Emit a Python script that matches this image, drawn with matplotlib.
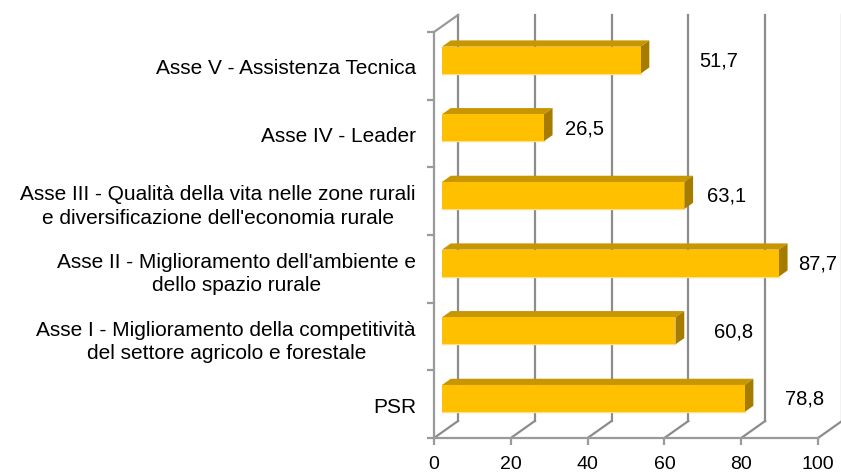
import numpy as np
import matplotlib
matplotlib.use('Agg')
import matplotlib.pyplot as plt
from matplotlib.patches import Polygon
from matplotlib.transforms import IdentityTransform

# data (bottom to top, as Excel draws it)
categories = ['PSR',
              'Asse I - Miglioramento della competitività\ndel settore agricolo e forestale',
              "Asse II - Miglioramento dell'ambiente e\ndello spazio rurale",
              "Asse III - Qualità della vita nelle zone rurali\ne diversificazione dell'economia rurale",
              'Asse IV - Leader',
              'Asse V - Assistenza Tecnica']
values = [78.8, 60.8, 87.7, 63.1, 26.5, 51.7]
xticks = [0, 20, 40, 60, 80, 100]

# where the data labels were dragged to (x in data units)
label_x = [94.5, 75.8, 97.7, 74, 37, 72]

plt.rcParams['font.family'] = ['Liberation Sans', 'DejaVu Sans']

W, H = 841, 477
fig = plt.figure(figsize=(W / 100, H / 100), dpi=100)
ax = fig.add_axes([434 / W, (H - 439) / H, (818 - 434) / W, (439 - 33) / H])
ax.set_xlim(0, 100)
ax.set_ylim(-0.5, len(categories) - 0.5)
ax.patch.set_alpha(0)

DEPTH = np.array([24.0, 17.0])  # pixel offset of the back wall
grid_c = '#8c8c8c'
axis_c = '#9a9a9a'


def pt(x, y, d=0.0):
    return ax.transData.transform((x, y)) + d * DEPTH


def line(p, q, c=grid_c, lw=1.6):
    ax.add_line(plt.Line2D([p[0], q[0]], [p[1], q[1]], color=c, lw=lw,
                           transform=IdentityTransform(), clip_on=False,
                           zorder=1))


def poly(pts, fc, z=3):
    ax.add_patch(Polygon(pts, closed=True, fc=fc, ec='none',
                         transform=IdentityTransform(), clip_on=False,
                         zorder=z))


y0, y1 = -0.5, len(categories) - 0.5

# back wall grid + floor slants
for x in xticks:
    line(pt(x, y0, 1), pt(x, y1, 1))
    line(pt(x, y0, 0), pt(x, y0, 1))
# left wall top edge
line(pt(0, y1, 0), pt(0, y1, 1), c=axis_c)

# axes spines / ticks
for s in ['top', 'right']:
    ax.spines[s].set_visible(False)
for s in ['left', 'bottom']:
    ax.spines[s].set_color(axis_c)
    ax.spines[s].set_linewidth(1.6)
ax.set_xticks(xticks)
ax.set_xticklabels([str(t) for t in xticks], fontsize=14)
ax.tick_params(axis='x', length=5, width=1.6, color=axis_c, pad=7)
ax.set_yticks(range(len(categories)))
ax.set_yticklabels(categories, fontsize=15, multialignment='center',
                   linespacing=1.3)
ax.tick_params(axis='y', length=0, pad=13)
ax.set_yticks(np.arange(-0.5, len(categories), 1), minor=True)
ax.tick_params(axis='y', which='minor', length=5, width=1.6, color=axis_c)

# 3D bars: front face at 1/3 depth, back a bit past 2/3
bh = 0.4
d0, d1 = 1 / 3, 0.7
for i, v in enumerate(values):
    lo, hi = i - bh / 2, i + bh / 2
    # top face
    poly([pt(0, hi, d0), pt(v, hi, d0), pt(v, hi, d1), pt(0, hi, d1)], '#c89600')
    # side face
    poly([pt(v, lo, d0), pt(v, lo, d1), pt(v, hi, d1), pt(v, hi, d0)], '#a67c00')
    # front face
    poly([pt(0, lo, d0), pt(v, lo, d0), pt(v, hi, d0), pt(0, hi, d0)], '#ffc000', z=4)
    # light rim along the bottom
    line(pt(0, lo, d0), pt(v, lo, d0), c='#ffe08a', lw=1.0)

    lx, ly = pt(label_x[i], i, d0)
    ax.text(lx, ly, f'{v:.1f}'.replace('.', ','), transform=IdentityTransform(),
            ha='center', va='center', fontsize=14.5, zorder=5)

fig.savefig('out.png', dpi=100)
